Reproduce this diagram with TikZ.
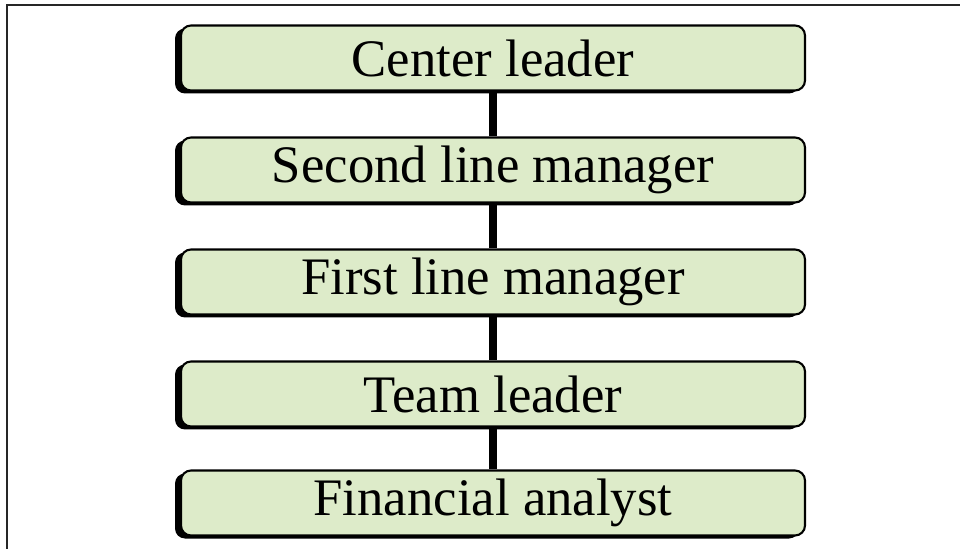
\documentclass[tikz,border=0pt]{standalone}
\usepackage{fontspec}
\setmainfont{Liberation Serif}
\usetikzlibrary{shadows}
\definecolor{boxgreen}{RGB}{221,235,201}

\begin{document}
\begin{tikzpicture}[scale=1]
				\useasboundingbox (0,0) rectangle (19.2,-10.98);
				% frame lines along top and left
				\draw[line width=0.8pt, color=black!85] (0.14,-10.98) -- (0.14,-0.1) -- (19.2,-0.1);
				\begin{scope}[every node/.style={draw, rounded corners=0.2cm, fill=boxgreen, line width=1.2pt, minimum width=12.48cm, minimum height=1.3cm, inner sep=0, font=\fontsize{30}{36}\selectfont, drop shadow={shadow xshift=-0.12cm, shadow yshift=-0.06cm, fill=black, opacity=1}}]
				\node (n1) at (9.86,-1.16) {Center leader};
				\node (n2) at (9.86,-3.40) {Second line manager};
				\node (n3) at (9.86,-5.64) {First line manager};
				\node (n4) at (9.86,-7.88) {Team leader};
				\node (n5) at (9.86,-10.06) {Financial analyst};
				
				\draw[-, line width=5pt] (n1) -- (n2);
				\draw[-, line width=5pt] (n2) -- (n3);
				\draw[-, line width=5pt] (n3) -- (n4);
				\draw[-, line width=5pt] (n4) -- (n5);
				\end{scope}
				\end{tikzpicture}
\end{document}
